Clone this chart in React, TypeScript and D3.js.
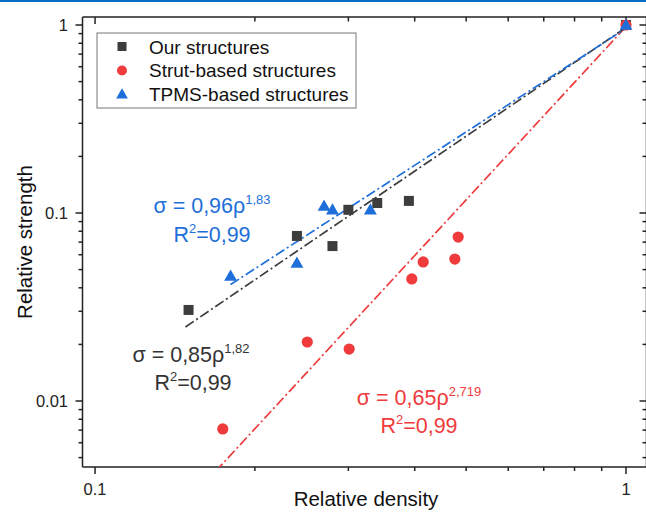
import React from "react";
import * as d3 from "d3";

// values
const ourDensity = [0.15, 0.24, 0.28, 0.3, 0.34, 0.39, 1];
const ourStrength = [0.0305, 0.0755, 0.0667, 0.104, 0.113, 0.116, 1];

const strutDensity = [0.174, 0.251, 0.301, 0.395, 0.415, 0.476, 0.483, 1];
const strutStrength = [0.0071, 0.0206, 0.0189, 0.0446, 0.0549, 0.0569, 0.0745, 1];

const tpmsDensity = [0.18, 0.24, 0.27, 0.28, 0.33, 1];
const tpmsStrength = [0.0462, 0.0542, 0.109, 0.104, 0.104, 1];

// fitted lines as drawn: [coefficient, exponent, first density]
const ourFit = [0.97, 1.92, 0.148];
const tpmsFit = [0.96, 1.83, 0.18];
const strutFit = [0.98, 3.06, 0.16];

const legendLabels = ["Our structures", "Strut-based structures", "TPMS-based structures"];
const xTickLabels = [0.1, 1];
const yTickLabels = [1, 0.1, 0.01];

const GREY = "#3d3d3d";
const RED = "#ef3b3c";
const BLUE = "#1e6fd9";
const FONT = "'Liberation Sans', Arial, sans-serif";

const W = 646;
const H = 512;
const left = 82.5;
const right = 646.5;
const top = 17;
const bottom = 467;

const App = () => {
  const x = d3.scaleLog().domain([0.0947, 1.093]).range([left, right]);
  const y = d3.scaleLog().domain([0.004456, 1.103]).range([bottom, top]);

  const line = d3
    .line<[number, number]>()
    .x((d) => x(d[0]))
    .y((d) => y(d[1]));

  const fitPath = (f: number[]) => {
    const pts: [number, number][] = [f[2], 1].map((r) => [r, f[0] * Math.pow(r, f[1])]);
    return line(pts) || "";
  };

  // minor ticks
  const xMinor: number[] = [];
  for (let k = 2; k <= 9; k++) xMinor.push(k / 10);
  const yMinor: number[] = [];
  [0.001, 0.01, 0.1].forEach((d) => {
    for (let k = 2; k <= 9; k++) {
      const v = d * k;
      if (v > y.domain()[0] && v < y.domain()[1]) yMinor.push(v);
    }
  });

  const tri = d3.symbol().type(d3.symbolTriangle).size(72)() || "";
  const dash = "10 3 2 3";

  return (
    <svg width={W} height={H} style={{ position: "absolute", left: 0, top: 0 }} fontFamily={FONT}>
      <rect x={0} y={0} width={W} height={H} fill="#fff" />
      <rect x={0} y={0} width={W} height={2} fill="#0a6fc2" />
      <defs>
        <clipPath id="plotArea">
          <rect x={left} y={top} width={right - left} height={bottom - top} />
        </clipPath>
      </defs>

      {/* axes frame */}
      <g stroke="#222" strokeWidth={1.5} fill="none">
        <line x1={left} x2={right} y1={top} y2={top} />
        <line x1={left} x2={right} y1={bottom} y2={bottom} />
        <line x1={left} x2={left} y1={top} y2={bottom} />
        <line x1={right} x2={right} y1={top} y2={bottom} />
        {xTickLabels.map((t) => (
          <g key={"xM" + t}>
            <line x1={x(t)} x2={x(t)} y1={bottom} y2={bottom + 7} />
            <line x1={x(t)} x2={x(t)} y1={top} y2={top + 7} />
          </g>
        ))}
        {xMinor.map((t) => (
          <g key={"xm" + t}>
            <line x1={x(t)} x2={x(t)} y1={bottom} y2={bottom + 4} />
            <line x1={x(t)} x2={x(t)} y1={top} y2={top + 4.5} />
          </g>
        ))}
        {yTickLabels.map((t) => (
          <g key={"yM" + t}>
            <line x1={left - 7} x2={left} y1={y(t)} y2={y(t)} />
            <line x1={right - 7} x2={right} y1={y(t)} y2={y(t)} />
          </g>
        ))}
        {yMinor.map((t) => (
          <g key={"ym" + t}>
            <line x1={left - 4} x2={left} y1={y(t)} y2={y(t)} />
            <line x1={right - 4} x2={right} y1={y(t)} y2={y(t)} />
          </g>
        ))}
      </g>

      <g fontSize={16.5} fill="#222">
        {xTickLabels.map((t) => (
          <text key={"xl" + t} x={x(t)} y={495} textAnchor="middle">
            {String(t)}
          </text>
        ))}
        {yTickLabels.map((t) => (
          <text key={"yl" + t} x={68} y={y(t)} dy="0.35em" textAnchor="end">
            {String(t)}
          </text>
        ))}
      </g>

      <text x={366} y={506} textAnchor="middle" fontSize={20.5} fill="#111">
        Relative density
      </text>
      <text
        transform={`translate(32,242) rotate(-90)`}
        textAnchor="middle"
        fontSize={20.5}
        fill="#111"
      >
        Relative strength
      </text>

      {/* fit lines */}
      <g clipPath="url(#plotArea)" fill="none" strokeWidth={1.7} strokeDasharray={dash}>
        <path d={fitPath(strutFit)} stroke={RED} />
        <path d={fitPath(ourFit)} stroke={GREY} />
        <path d={fitPath(tpmsFit)} stroke={BLUE} />
      </g>

      {/* markers */}
      <g clipPath="url(#plotArea)">
        {ourDensity.map((d, i) => (
          <rect
            key={"s" + i}
            x={x(d) - 5}
            y={y(ourStrength[i]) - 5}
            width={10}
            height={10}
            fill={GREY}
          />
        ))}
        {strutDensity.map((d, i) => (
          <circle key={"c" + i} cx={x(d)} cy={y(strutStrength[i])} r={5.6} fill={RED} />
        ))}
        {tpmsDensity.map((d, i) => (
          <path
            key={"t" + i}
            d={tri}
            transform={`translate(${x(d)},${y(tpmsStrength[i]) + 1})`}
            fill={BLUE}
          />
        ))}
      </g>

      {/* legend */}
      <rect x={97} y={33} width={259} height={75} fill="#fff" stroke="#777" strokeWidth={1} />
      <rect x={117.5} y={42} width={9} height={9} fill={GREY} />
      <circle cx={122} cy={70.5} r={5} fill={RED} />
      <path d={d3.symbol().type(d3.symbolTriangle).size(60)() || ""} transform="translate(122,95)" fill={BLUE} />
      <g fontSize={19} fill="#111">
        {legendLabels.map((l, i) => (
          <text key={l} x={149} y={53.5 + i * 23.5}>
            {l}
          </text>
        ))}
      </g>

      {/* fit annotations */}
      <g fontSize={21.5} textAnchor="middle">
        <text x={212} y={213} fill={BLUE}>
          σ = 0,96ρ<tspan fontSize={13} dy={-9}>1,83</tspan>
        </text>
        <text x={212} y={242} fill={BLUE}>
          R<tspan fontSize={13} dy={-9}>2</tspan>
          <tspan dy={9}>=0,99</tspan>
        </text>
        <text x={191} y={362} fill="#333">
          σ = 0,85ρ<tspan fontSize={13} dy={-9}>1,82</tspan>
        </text>
        <text x={193} y={390} fill="#333">
          R<tspan fontSize={13} dy={-9}>2</tspan>
          <tspan dy={9}>=0,99</tspan>
        </text>
        <text x={419} y={405} fill={RED}>
          σ = 0,65ρ<tspan fontSize={13} dy={-9}>2,719</tspan>
        </text>
        <text x={419} y={433} fill={RED}>
          R<tspan fontSize={13} dy={-9}>2</tspan>
          <tspan dy={9}>=0,99</tspan>
        </text>
      </g>
    </svg>
  );
};

export default App;
